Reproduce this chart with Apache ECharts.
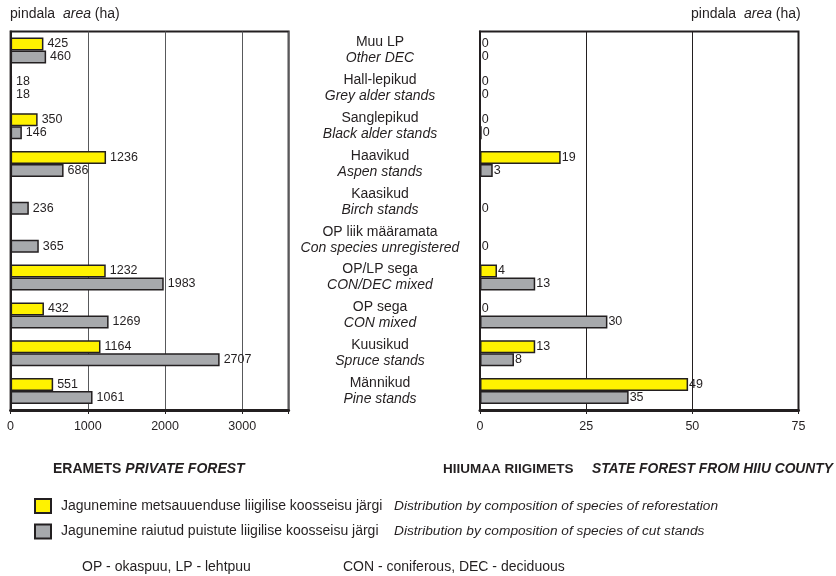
<!DOCTYPE html>
<html>
<head>
<meta charset="utf-8">
<script src="https://cdn.jsdelivr.net/npm/echarts@6/dist/echarts.min.js"></script>
<style>html,body{margin:0;padding:0;background:#fff}#c{width:836px;height:576px}</style>
</head>
<body>
<div id="c"></div>
<script>
const catEt = ['Muu LP','Hall-lepikud','Sanglepikud','Haavikud','Kaasikud','OP liik määramata','OP/LP sega','OP sega','Kuusikud','Männikud'];
const catEn = ['Other DEC','Grey alder stands','Black alder stands','Aspen stands','Birch stands','Con species unregistered','CON/DEC mixed','CON mixed','Spruce stands','Pine stands'];
const privReforest = [425, 18, 350, 1236, null, null, 1232, 432, 1164, 551];
const privCut = [460, 18, 146, 686, 236, 365, 1983, 1269, 2707, 1061];
const stateReforest = [0, 0, 0, 19, null, null, 4, 0, 13, 49];
const stateCut = [0, 0, 0.4, 3, 0, 0, 13, 30, 8, 35];
const leftTicks = {max: 3600, interval: 1000};
const rightTicks = {max: 75, interval: 25};
const nameReforest = 'Jagunemine metsauuenduse liigilise koosseisu järgi';
const nameCut = 'Jagunemine raiutud puistute liigilise koosseisu järgi';
const enReforest = 'Distribution by composition of species of reforestation';
const enCut = 'Distribution by composition of species of cut stands';

const FONT = "'Liberation Sans', Arial, sans-serif";
const YEL = '#FFF200', GRY = '#A7A9AC', EDGE = '#231F20', INK = '#231F20';

const chart = echarts.init(document.getElementById('c'), null, {renderer: 'canvas'});
const lbl = (dist) => ({show: true, position: 'right', distance: dist, color: INK, fontSize: 12.5, fontFamily: FONT,
  formatter: p => (p.value == null ? '' : String(Math.round(p.value)))});
const barSeries = (name, data, color, xi, dist) => ({
  type: 'bar', name, data, xAxisIndex: xi, yAxisIndex: xi, barWidth: 13, barGap: '0%',
  itemStyle: {color, borderColor: EDGE, borderWidth: 1.5}, label: lbl(dist), emphasis: {disabled: true}, animation: false
});
const xAx = (gi, t, splitColor) => ({
  type: 'value', gridIndex: gi, min: 0, max: t.max, interval: t.interval,
  axisLine: {show: true, lineStyle: {color: INK, width: 3}},
  axisTick: {show: true, length: 4, lineStyle: {color: INK, width: 1}},
  axisLabel: {color: INK, fontSize: 12.5, fontFamily: FONT, margin: 10,
    formatter: v => (v % t.interval === 0 ? String(v) : '')},
  splitLine: {show: true, lineStyle: {color: splitColor, width: 1}}
});
const reg = {fontSize: 14, fontFamily: FONT, fontWeight: 'normal', color: INK};
const ita = {fontSize: 14, fontFamily: FONT, fontWeight: 'normal', fontStyle: 'italic', color: INK};
const bld = {fontSize: 14, fontFamily: FONT, fontWeight: 'bold', color: INK};
const bit = {fontSize: 14, fontFamily: FONT, fontWeight: 'bold', fontStyle: 'italic', color: INK};

chart.setOption({
  animation: false,
  textStyle: {fontFamily: FONT},
  grid: [
    {left: 10.6, top: 31.5, width: 278, height: 378.5, show: true, borderColor: INK, borderWidth: 2, containLabel: false},
    {left: 480, top: 31.5, width: 318.5, height: 378.5, show: true, borderColor: INK, borderWidth: 2, containLabel: false}
  ],
  xAxis: [xAx(0, leftTicks, '#58595b'), xAx(1, rightTicks, INK)],
  yAxis: [
    {type: 'category', gridIndex: 0, data: catEt, inverse: true,
      axisLine: {show: true, lineStyle: {color: INK, width: 2}}, axisTick: {show: false}, axisLabel: {show: false}, splitLine: {show: false}},
    {type: 'category', gridIndex: 1, data: catEt, inverse: true,
      axisLine: {show: true, lineStyle: {color: INK, width: 2}}, axisTick: {show: false}, splitLine: {show: false},
      axisLabel: {show: true, margin: 100, align: 'center',
        formatter: (v, i) => '{a|' + catEt[i] + '}\n{b|' + catEn[i] + '}',
        rich: {a: {fontSize: 14, fontFamily: FONT, color: INK, lineHeight: 16, align: 'center'},
               b: {fontSize: 14, fontFamily: FONT, fontStyle: 'italic', color: INK, lineHeight: 16, align: 'center'}}}}
  ],
  legend: {
    show: true, orient: 'vertical', left: 34, top: 498, itemWidth: 16, itemHeight: 14, itemGap: 9.5,
    icon: 'rect', selectedMode: false, padding: 0,
    data: [nameReforest, nameCut],
    formatter: n => '{a|' + n + '}{b|' + (n === nameReforest ? enReforest : enCut) + '}',
    textStyle: {rich: {
      a: Object.assign({}, reg, {width: 333, padding: [0, 0, 0, 5]}),
      b: Object.assign({}, ita, {fontSize: 13.7})}}
  },
  title: [
    {text: '{a|pindala  }{b|area}{a| (ha)}', left: 10, top: 7, padding: 0, textStyle: {rich: {a: reg, b: ita}}},
    {text: '{a|pindala  }{b|area}{a| (ha)}', left: 691, top: 7, padding: 0, textStyle: {rich: {a: reg, b: ita}}},
    {text: '{a|ERAMETS }{b|PRIVATE FOREST}', left: 53, top: 462, padding: 0, textStyle: {rich: {a: bld, b: bit}}},
    {text: '{a|HIIUMAA RIIGIMETS}{b|STATE FOREST FROM HIIU COUNTY}', left: 443, top: 462, padding: 0,
      textStyle: {rich: {a: Object.assign({}, bld, {fontSize: 13.5, width: 149}), b: Object.assign({}, bit, {fontSize: 13.8})}}},
    {text: 'OP - okaspuu, LP - lehtpuu', left: 82, top: 560, padding: 0, textStyle: reg},
    {text: 'CON - coniferous, DEC - deciduous', left: 343, top: 560, padding: 0, textStyle: reg}
  ],
  series: [
    barSeries(nameReforest, privReforest, YEL, 0, 4),
    barSeries(nameCut, privCut, GRY, 0, 4),
    barSeries(nameReforest, stateReforest, YEL, 1, 1),
    barSeries(nameCut, stateCut, GRY, 1, 1)
  ]
});
</script>
</body>
</html>
